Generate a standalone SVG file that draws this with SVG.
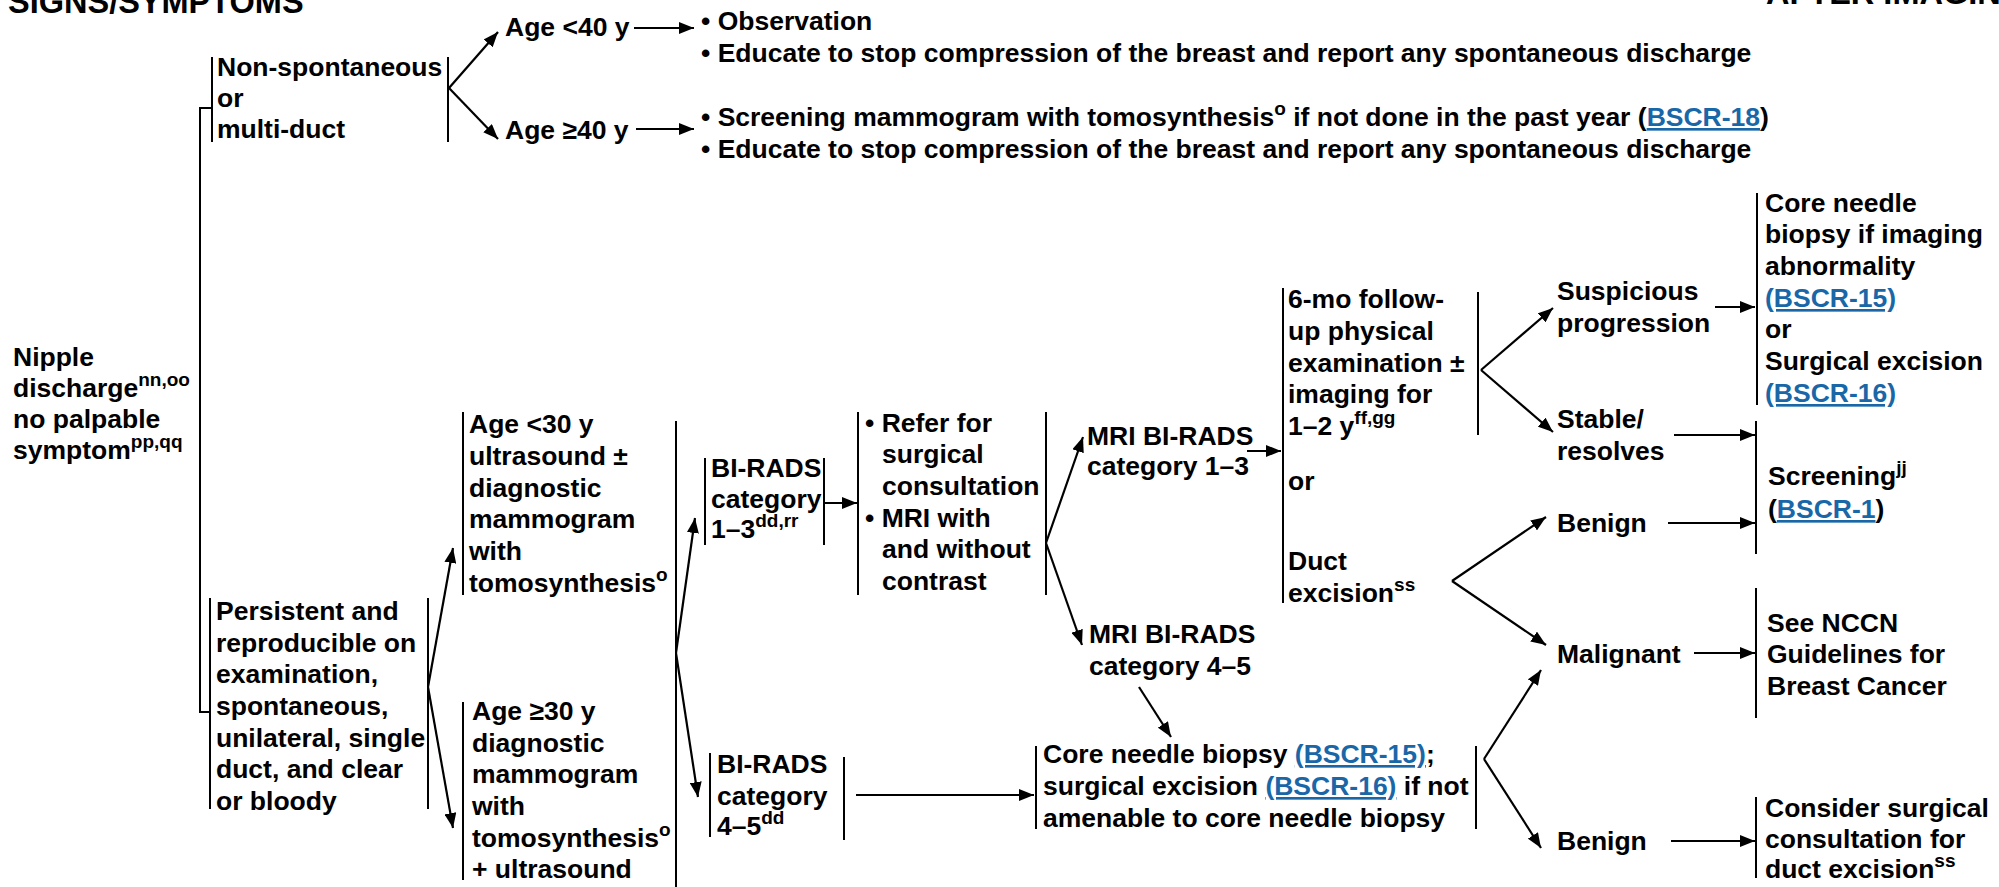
<svg xmlns="http://www.w3.org/2000/svg" width="1999" height="887" viewBox="0 0 1999 887">
<style>
text{font-family:"Liberation Sans",Arial,Helvetica,sans-serif;font-weight:bold;font-size:26.5px;fill:#000}
.ttl{font-size:32.5px}
.sup{font-size:19px}
.lk{fill:#1a67a8;text-decoration:underline}
.bar{stroke:#000;stroke-width:2;fill:none}
.c{stroke:#000;stroke-width:2.2;fill:none;marker-end:url(#ah)}
</style>
<defs>
<marker id="ah" markerUnits="userSpaceOnUse" markerWidth="16" markerHeight="12" refX="15" refY="6" orient="auto">
<path d="M0,0 L15,6 L0,12 z" fill="#000"/>
</marker>
</defs>
<rect width="1999" height="887" fill="#fff"/>
<g id="titles">
<text class="ttl" x="8" y="13">SIGNS/SYMPTOMS</text>
<text class="ttl" x="1766" y="4">AFTER IMAGING</text>
</g>
<g id="n-nipple">
<text x="13" y="366">Nipple</text>
<text x="13" y="397">discharge<tspan class="sup" dy="-11">nn,oo</tspan></text>
<text x="13" y="428">no palpable</text>
<text x="13" y="459">symptom<tspan class="sup" dy="-11">pp,qq</tspan></text>
</g>
<g id="n-nonspont">
<line class="bar" x1="212" y1="57" x2="212" y2="142"/>
<line class="bar" x1="448" y1="57" x2="448" y2="142"/>
<text x="217" y="76">Non-spontaneous</text>
<text x="217" y="107">or</text>
<text x="217" y="138">multi-duct</text>
</g>
<g id="n-age-lt40"><text x="505" y="36">Age &lt;40 y</text></g>
<g id="n-age-ge40"><text x="505" y="139">Age ≥40 y</text></g>
<g id="n-observation">
<text x="701" y="30">• Observation</text>
<text x="701" y="62">• Educate to stop compression of the breast and report any spontaneous discharge</text>
</g>
<g id="n-screening-mammo">
<text x="701" y="126">• Screening mammogram with tomosynthesis<tspan class="sup" dy="-11">o</tspan><tspan dy="11"> if not done in the past year (</tspan><tspan class="lk">BSCR-18</tspan>)</text>
<text x="701" y="158">• Educate to stop compression of the breast and report any spontaneous discharge</text>
</g>
<g id="n-persistent">
<line class="bar" x1="210" y1="598" x2="210" y2="809"/>
<line class="bar" x1="428" y1="598" x2="428" y2="809"/>
<text x="216" y="620">Persistent and</text>
<text x="216" y="652">reproducible on</text>
<text x="216" y="683">examination,</text>
<text x="216" y="715">spontaneous,</text>
<text x="216" y="747">unilateral, single</text>
<text x="216" y="778">duct, and clear</text>
<text x="216" y="810">or bloody</text>
</g>
<g id="n-age-lt30">
<line class="bar" x1="463" y1="412" x2="463" y2="595"/>
<text x="469" y="433">Age &lt;30 y</text>
<text x="469" y="465">ultrasound ±</text>
<text x="469" y="497">diagnostic</text>
<text x="469" y="528">mammogram</text>
<text x="469" y="560">with</text>
<text x="469" y="592">tomosynthesis<tspan class="sup" dy="-11">o</tspan></text>
</g>
<g id="n-age-ge30">
<line class="bar" x1="463" y1="702" x2="463" y2="880"/>
<text x="472" y="720">Age ≥30 y</text>
<text x="472" y="752">diagnostic</text>
<text x="472" y="783">mammogram</text>
<text x="472" y="815">with</text>
<text x="472" y="847">tomosynthesis<tspan class="sup" dy="-11">o</tspan></text>
<text x="472" y="878">+ ultrasound</text>
</g>
<g id="n-birads13">
<line class="bar" x1="705" y1="458" x2="705" y2="545"/>
<line class="bar" x1="824" y1="458" x2="824" y2="545"/>
<text x="711" y="477">BI-RADS</text>
<text x="711" y="508">category</text>
<text x="711" y="538">1–3<tspan class="sup" dy="-11">dd,rr</tspan></text>
</g>
<g id="n-refer">
<line class="bar" x1="858" y1="412" x2="858" y2="595"/>
<line class="bar" x1="1046" y1="412" x2="1046" y2="595"/>
<text x="865" y="432">• Refer for</text>
<text x="882" y="463">surgical</text>
<text x="882" y="495">consultation</text>
<text x="865" y="527">• MRI with</text>
<text x="882" y="558">and without</text>
<text x="882" y="590">contrast</text>
</g>
<g id="n-mri13">
<text x="1087" y="445">MRI BI-RADS</text>
<text x="1087" y="475">category 1–3</text>
</g>
<g id="n-mri45">
<text x="1089" y="643">MRI BI-RADS</text>
<text x="1089" y="675">category 4–5</text>
</g>
<g id="n-birads45">
<line class="bar" x1="710" y1="753" x2="710" y2="837"/>
<line class="bar" x1="844" y1="757" x2="844" y2="840"/>
<text x="717" y="773">BI-RADS</text>
<text x="717" y="805">category</text>
<text x="717" y="835">4–5<tspan class="sup" dy="-11">dd</tspan></text>
</g>
<g id="n-followup">
<line class="bar" x1="1283" y1="288" x2="1283" y2="603"/>
<line class="bar" x1="1478" y1="292" x2="1478" y2="435"/>
<text x="1288" y="308">6-mo follow-</text>
<text x="1288" y="340">up physical</text>
<text x="1288" y="372">examination ±</text>
<text x="1288" y="403">imaging for</text>
<text x="1288" y="435">1–2 y<tspan class="sup" dy="-11">ff,gg</tspan></text>
<text x="1288" y="490">or</text>
<text x="1288" y="570">Duct</text>
<text x="1288" y="602">excision<tspan class="sup" dy="-11">ss</tspan></text>
</g>
<g id="n-suspicious">
<text x="1557" y="300">Suspicious</text>
<text x="1557" y="332">progression</text>
</g>
<g id="n-stable">
<text x="1557" y="428">Stable/</text>
<text x="1557" y="460">resolves</text>
</g>
<g id="n-core-top">
<line class="bar" x1="1757" y1="193" x2="1757" y2="405"/>
<text x="1765" y="212">Core needle</text>
<text x="1765" y="243">biopsy if imaging</text>
<text x="1765" y="275">abnormality</text>
<text x="1765" y="307" class="lk">(BSCR-15)</text>
<text x="1765" y="338">or</text>
<text x="1765" y="370">Surgical excision</text>
<text x="1765" y="402" class="lk">(BSCR-16)</text>
</g>
<g id="n-screening">
<line class="bar" x1="1756" y1="421" x2="1756" y2="554"/>
<text x="1768" y="485">Screening<tspan class="sup" dy="-11">jj</tspan></text>
<text x="1768" y="518">(<tspan class="lk">BSCR-1</tspan>)</text>
</g>
<g id="n-benign-top"><text x="1557" y="532">Benign</text></g>
<g id="n-malignant"><text x="1557" y="663">Malignant</text></g>
<g id="n-nccn">
<line class="bar" x1="1756" y1="588" x2="1756" y2="718"/>
<text x="1767" y="632">See NCCN</text>
<text x="1767" y="663">Guidelines for</text>
<text x="1767" y="695">Breast Cancer</text>
</g>
<g id="n-core-bottom">
<line class="bar" x1="1036" y1="746" x2="1036" y2="829"/>
<line class="bar" x1="1476" y1="746" x2="1476" y2="829"/>
<text x="1043" y="763">Core needle biopsy <tspan class="lk">(BSCR-15)</tspan>;</text>
<text x="1043" y="795">surgical excision <tspan class="lk">(BSCR-16)</tspan> if not</text>
<text x="1043" y="827">amenable to core needle biopsy</text>
</g>
<g id="n-benign-bottom"><text x="1557" y="850">Benign</text></g>
<g id="n-consider">
<line class="bar" x1="1756" y1="797" x2="1756" y2="878"/>
<text x="1765" y="817">Consider surgical</text>
<text x="1765" y="848">consultation for</text>
<text x="1765" y="878">duct excision<tspan class="sup" dy="-11">ss</tspan></text>
</g>
<g id="connectors">
<path class="bar" d="M211,108 H200 V712 H211"/>
<line class="bar" x1="676" y1="421" x2="676" y2="887"/>
<line class="c" x1="449" y1="88" x2="498" y2="32"/>
<line class="c" x1="449" y1="88" x2="498" y2="139"/>
<line class="c" x1="634" y1="28" x2="694" y2="28"/>
<line class="c" x1="636" y1="129" x2="694" y2="129"/>
<line class="c" x1="428" y1="687" x2="453" y2="548"/>
<line class="c" x1="428" y1="687" x2="453" y2="828"/>
<line class="c" x1="676" y1="653" x2="695" y2="518"/>
<line class="c" x1="676" y1="653" x2="698" y2="797"/>
<line class="c" x1="824" y1="503" x2="857" y2="503"/>
<line class="c" x1="1046" y1="543" x2="1083" y2="437"/>
<line class="c" x1="1046" y1="543" x2="1082" y2="645"/>
<line class="c" x1="1247" y1="451" x2="1281" y2="451"/>
<line class="c" x1="1139" y1="687" x2="1171" y2="737"/>
<line class="c" x1="856" y1="795" x2="1034" y2="795"/>
<line class="c" x1="1481" y1="370" x2="1553" y2="308"/>
<line class="c" x1="1481" y1="370" x2="1553" y2="432"/>
<line class="c" x1="1715" y1="307" x2="1755" y2="307"/>
<line class="c" x1="1674" y1="435" x2="1755" y2="435"/>
<line class="c" x1="1452" y1="581" x2="1546" y2="517"/>
<line class="c" x1="1452" y1="581" x2="1546" y2="645"/>
<line class="c" x1="1668" y1="523" x2="1755" y2="523"/>
<line class="c" x1="1694" y1="653" x2="1755" y2="653"/>
<line class="c" x1="1484" y1="759" x2="1541" y2="670"/>
<line class="c" x1="1484" y1="759" x2="1541" y2="848"/>
<line class="c" x1="1671" y1="841" x2="1755" y2="841"/>
</g>
</svg>
